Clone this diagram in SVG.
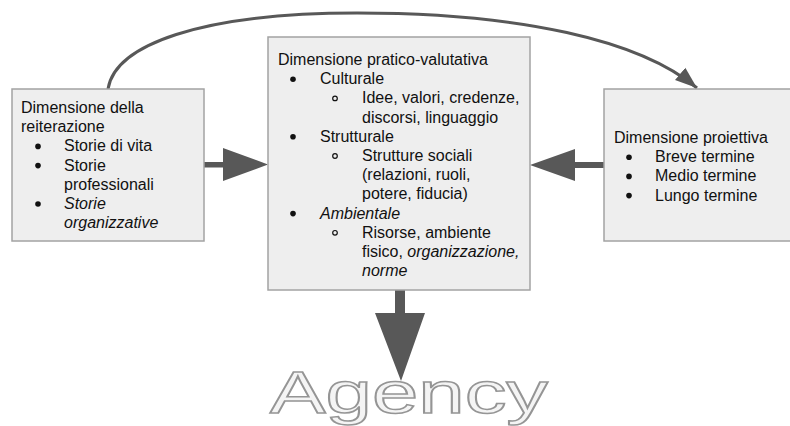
<svg xmlns="http://www.w3.org/2000/svg" width="790" height="426" viewBox="0 0 790 426">
<defs>
<style>
.box{fill:#eeeeee;stroke:#a3a3a3;stroke-width:1.5}
.t{font-family:"Liberation Sans",Arial,sans-serif;font-size:16px;fill:#111}
.i{font-style:italic}
.b{fill:#111}
.sb{fill:none;stroke:#111;stroke-width:1.2}
.arr{fill:#585858}
.curve{fill:none;stroke:#585858;stroke-width:3}
.agency{font-family:"Liberation Sans",Arial,sans-serif;font-size:59px;fill:#f4f4f4;stroke:#959595;stroke-width:1.5}
</style>
<marker id="head" markerUnits="userSpaceOnUse" markerWidth="24" markerHeight="18" viewBox="0 0 24 18" refX="22" refY="9" orient="auto">
<path d="M0,1 L22,9 L0,17 Z" fill="#585858"/>
</marker>
</defs>
<g id="connectors">
<path class="curve" d="M108,89 C115,45 200,13 357,13 C520,13 640,40 697,88" marker-end="url(#head)"/>
<path class="arr" d="M204,162 H223 V148 L268,164.5 L223,181 V167.5 H204 Z"/>
<path class="arr" d="M604,162 H575 V149 L530,165 L575,181 V168 H604 Z"/>
<path class="arr" d="M395,290 H405 V313 H425 L401,381 L375,313 H395 Z"/>
</g>
<g id="node-reiterazione">
<rect class="box" x="12" y="89" width="192" height="152"/>
<text class="t" x="21" y="113">Dimensione della</text>
<text class="t" x="21" y="132.2">reiterazione</text>
<circle class="b" cx="38" cy="146.4" r="2.8"/>
<text class="t" x="64" y="151.4">Storie di vita</text>
<circle class="b" cx="38" cy="165.6" r="2.8"/>
<text class="t" x="64" y="170.6">Storie</text>
<text class="t" x="64" y="189.8">professionali</text>
<circle class="b" cx="38" cy="204" r="2.8"/>
<text class="t i" x="64" y="209">Storie</text>
<text class="t i" x="64" y="228.2">organizzative</text>
</g>
<g id="node-pratico">
<rect class="box" x="268" y="37" width="262" height="253"/>
<text class="t" x="278" y="65">Dimensione pratico-valutativa</text>
<circle class="b" cx="293" cy="79.2" r="2.8"/>
<text class="t" x="320" y="84.2">Culturale</text>
<circle class="sb" cx="335" cy="98.4" r="2.3"/>
<text class="t" x="362" y="103.4">Idee, valori, credenze,</text>
<text class="t" x="362" y="122.6">discorsi, linguaggio</text>
<circle class="b" cx="293" cy="136.8" r="2.8"/>
<text class="t" x="320" y="141.8">Strutturale</text>
<circle class="sb" cx="335" cy="156" r="2.3"/>
<text class="t" x="362" y="161">Strutture sociali</text>
<text class="t" x="362" y="180.2">(relazioni, ruoli,</text>
<text class="t" x="362" y="199.4">potere, fiducia)</text>
<circle class="b" cx="293" cy="213.6" r="2.8"/>
<text class="t i" x="320" y="218.6">Ambientale</text>
<circle class="sb" cx="335" cy="232.8" r="2.3"/>
<text class="t" x="362" y="237.8">Risorse, ambiente</text>
<text class="t" x="362" y="257">fisico, <tspan class="i">organizzazione,</tspan></text>
<text class="t i" x="362" y="276.2">norme</text>
</g>
<g id="node-proiettiva">
<rect class="box" x="604" y="89" width="200" height="152"/>
<text class="t" x="614" y="143">Dimensione proiettiva</text>
<circle class="b" cx="629" cy="157.2" r="2.8"/>
<text class="t" x="655" y="162.2">Breve termine</text>
<circle class="b" cx="629" cy="176.4" r="2.8"/>
<text class="t" x="655" y="181.4">Medio termine</text>
<circle class="b" cx="629" cy="195.6" r="2.8"/>
<text class="t" x="655" y="200.6">Lungo termine</text>
</g>
<g id="node-agency">
<text class="agency" x="270" y="413" textLength="278" lengthAdjust="spacingAndGlyphs">Agency</text>
</g>
</svg>
